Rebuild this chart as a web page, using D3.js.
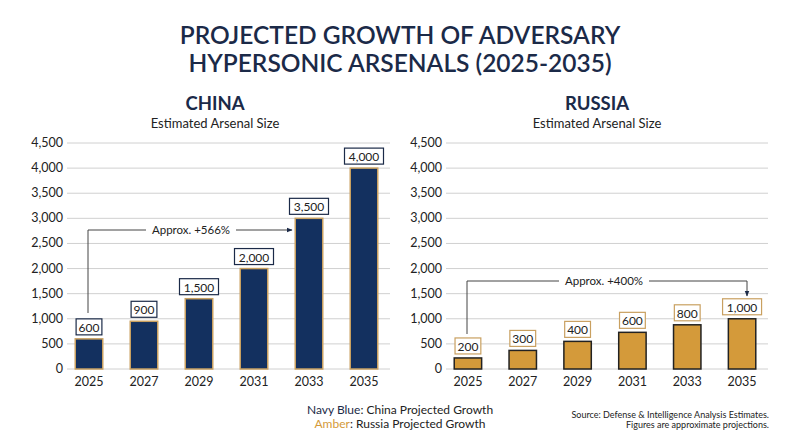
<!DOCTYPE html><html><head><meta charset="utf-8"><script src="https://cdn.jsdelivr.net/npm/d3@7"></script>
<style>body{margin:0;background:#fff}text{font-family:Lato,sans-serif}</style></head><body><svg id="c" width="800" height="447"></svg>
<script>
const years=["2025","2027","2029","2031","2033","2035"];
const chinaValues=[600,950,1400,2000,3000,4000];
const chinaLabels=["600","900","1,500","2,000","3,500","4,000"];
const russiaValues=[220,370,550,730,880,1000];
const russiaLabels=["200","300","400","600","800","1,000"];
const yTicks=[0,500,1000,1500,2000,2500,3000,3500,4000,4500];
const navy="#13305f",amber="#d49a3a",dark="#1b2a48";
const svg=d3.select("#c");
svg.append("text").attr("x",400).attr("y",44).attr("text-anchor","middle").attr("font-size",24.5).attr("font-weight",600).attr("fill",dark).text("PROJECTED GROWTH OF ADVERSARY");
svg.append("text").attr("x",400).attr("y",72).attr("text-anchor","middle").attr("font-size",24.5).attr("font-weight",600).attr("fill",dark).text("HYPERSONIC ARSENALS (2025-2035)");
svg.append("defs").append("marker").attr("id","ar").attr("viewBox","0 0 10 10").attr("refX",9).attr("refY",5).attr("markerWidth",6).attr("markerHeight",6).attr("orient","auto").append("path").attr("d","M0,1L10,5L0,9z").attr("fill",dark);
function panel(o){
  const y=d3.scaleLinear().domain([0,4500]).range([369,143]);
  const x=d3.scaleBand().domain(years).range([o.x0,o.x1]).paddingInner(0.5).paddingOuter(0.15);
  const g=svg.append("g");
  g.append("text").attr("x",o.cx).attr("y",110).attr("text-anchor","middle").attr("font-size",18.5).attr("font-weight",700).attr("fill",dark).text(o.name);
  g.append("text").attr("x",o.cx).attr("y",128).attr("text-anchor","middle").attr("font-size",13).attr("fill","#222").text("Estimated Arsenal Size");
  g.selectAll(".gl").data(yTicks).join("line").attr("x1",o.x0).attr("x2",o.x1+4).attr("y1",d=>y(d)).attr("y2",d=>y(d)).attr("stroke","#d0d0d0");
  g.selectAll(".yl").data(yTicks).join("text").attr("x",o.x0-4).attr("y",d=>y(d)+4).attr("text-anchor","end").attr("font-size",12.5).attr("fill","#222").text(d=>d3.format(",")(d));
  g.selectAll(".b").data(o.vals).join("rect").attr("x",(d,i)=>x(years[i])).attr("width",x.bandwidth()).attr("y",d=>y(d)).attr("height",d=>y(0)-y(d)).attr("fill",o.fill).attr("stroke",o.stroke).attr("stroke-width",1.5);
  g.selectAll(".xl").data(years).join("text").attr("x",d=>x(d)+x.bandwidth()/2).attr("y",386).attr("text-anchor","middle").attr("font-size",12.5).attr("fill","#222").text(d=>d);
  o.labels.forEach((l,i)=>{
    const cx=x(years[i])+x.bandwidth()/2, ty=y(o.vals[i])-8;
    const w=l.length*6.6+6;
    g.append("rect").attr("x",cx-w/2).attr("y",ty-12).attr("width",w).attr("height",16).attr("fill","#fff").attr("stroke",o.box).attr("stroke-width",1.2);
    g.append("text").attr("x",cx).attr("y",ty+1).attr("text-anchor","middle").attr("font-size",12).attr("fill","#222").text(l);
  });
  const a=o.ann;
  g.append("path").attr("d",a.path).attr("fill","none").attr("stroke","#444").attr("marker-end","url(#ar)");
  g.append("rect").attr("x",a.tx-45).attr("y",a.ty-9).attr("width",90).attr("height",16).attr("fill","#fff");
  g.append("text").attr("x",a.tx).attr("y",a.ty+4).attr("text-anchor","middle").attr("font-size",11.5).attr("fill","#222").text(a.text);
}
panel({name:"CHINA",cx:215,x0:67,x1:386,vals:chinaValues,labels:chinaLabels,fill:navy,stroke:"#c9a060",box:dark,
  ann:{path:"M88,313V230H292",tx:191,ty:230,text:"Approx. +566%"}});
panel({name:"RUSSIA",cx:597,x0:446,x1:764,vals:russiaValues,labels:russiaLabels,fill:amber,stroke:"#222",box:"#c9a060",
  ann:{path:"M467,334V281H747V296",tx:604,ty:281,text:"Approx. +400%"}});
const lg=svg.append("text").attr("x",400).attr("y",414).attr("text-anchor","middle").attr("font-size",12);
lg.append("tspan").attr("fill",dark).text("Navy Blue");lg.append("tspan").attr("fill","#222").text(": China Projected Growth");
const lg2=svg.append("text").attr("x",400).attr("y",428).attr("text-anchor","middle").attr("font-size",12);
lg2.append("tspan").attr("fill",amber).text("Amber");lg2.append("tspan").attr("fill","#222").text(": Russia Projected Growth");
svg.append("text").attr("x",769).attr("y",418).attr("text-anchor","end").attr("font-size",9).attr("fill","#222").text("Source: Defense & Intelligence Analysis Estimates.");
svg.append("text").attr("x",769).attr("y",428).attr("text-anchor","end").attr("font-size",9).attr("fill","#222").text("Figures are approximate projections.");
</script></body></html>
